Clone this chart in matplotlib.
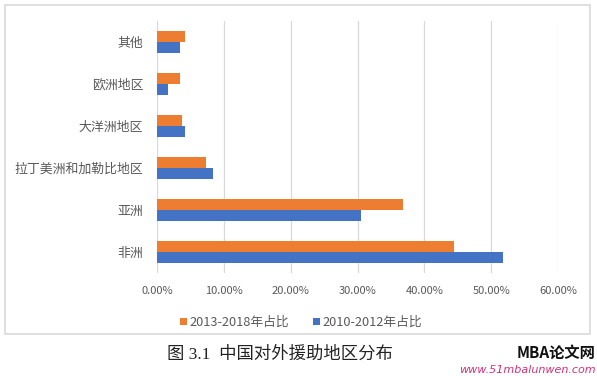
import numpy as np
import matplotlib
matplotlib.use('Agg')
import matplotlib.pyplot as plt
from matplotlib.patches import Rectangle
from matplotlib.ticker import FuncFormatter

# ── Data ──────────────────────────────────────────────────────────────────────
regions   = ['非洲', '亚洲', '拉丁美洲和加勒比地区', '大洋洲地区', '欧洲地区', '其他']
share_new = [44.5, 36.8, 7.3, 3.8, 3.5, 4.2]   # 2013-2018年占比 (%)
share_old = [51.7, 30.5, 8.4, 4.2, 1.7, 3.5]   # 2010-2012年占比 (%)
x_ticks   = [0, 10, 20, 30, 40, 50, 60]

ORANGE = '#ED7D31'
BLUE   = '#4472C4'
GRAY   = '#595959'
CJK    = ['Noto Sans CJK SC', 'DejaVu Sans']

plt.rcParams['font.family'] = CJK

fig = plt.figure(figsize=(5.97, 3.76), dpi=100)
fig.patches.append(Rectangle((5/597, 1-334/376), 585/597, 329/376,
                             transform=fig.transFigure, fill=False,
                             edgecolor='#d9d9d9', lw=1.2))

ax = fig.add_axes([157/597, 1-273/376, 401/597, 252/376])

y = np.arange(len(regions))
h = 0.27
ax.barh(y + h/2, share_new, height=h, color=ORANGE, label='2013-2018年占比')
ax.barh(y - h/2, share_old, height=h, color=BLUE, label='2010-2012年占比')

ax.set_xlim(0, 60)
ax.set_ylim(-0.5, len(regions) - 0.5)
ax.set_xticks(x_ticks)
ax.xaxis.set_major_formatter(FuncFormatter(lambda v, p: f'{v:.2f}%'))
ax.set_yticks(y)
ax.set_yticklabels(regions)
ax.tick_params(axis='both', length=0, colors=GRAY)
ax.tick_params(axis='x', pad=9, labelsize=8)
ax.tick_params(axis='y', pad=10, labelsize=9.3)
ax.grid(axis='x', color='#d9d9d9', lw=0.9)
ax.set_axisbelow(True)
for s in ax.spines.values():
    s.set_visible(False)

ax.legend(loc='upper center', bbox_to_anchor=(144/401, -0.125), ncol=2,
          frameon=False, fontsize=9.2, handlelength=0.55, handleheight=0.55,
          handletextpad=0.25, columnspacing=1.8, labelcolor=GRAY)

fig.text(280/597, 1-355/376, '图 3.1  中国对外援助地区分布', ha='center', va='center',
         fontsize=12.5, color='#222222', family=['Liberation Serif', 'Noto Sans CJK SC'])
fig.text(595/597, 1-353/376, 'MBA论文网', ha='right', va='center', fontsize=11,
         weight='bold', style='italic', color='#111111')
fig.text(596/597, 1-370/376, 'www.51mbalunwen.com', ha='right', va='center',
         fontsize=8, style='italic', color='#d0307a', family=['DejaVu Sans'])

fig.savefig('out.png', dpi=100)
